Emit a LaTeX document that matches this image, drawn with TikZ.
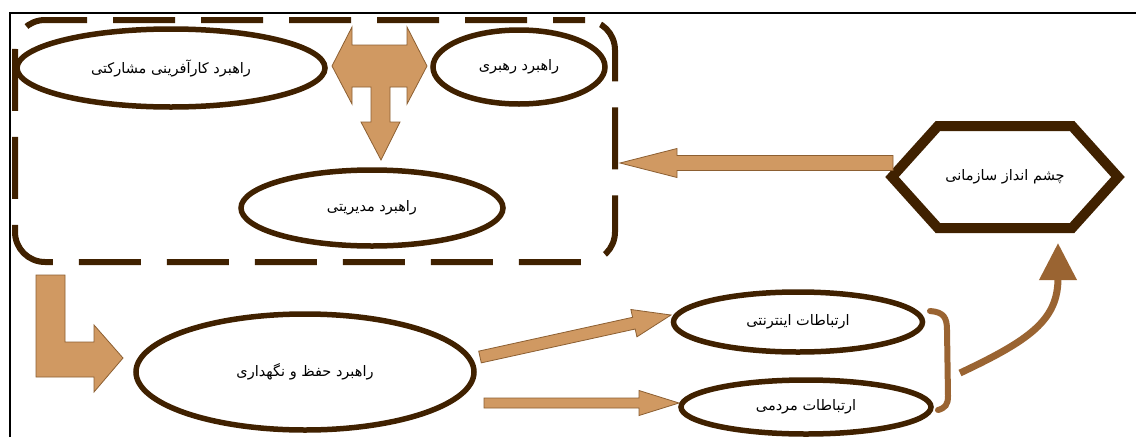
\documentclass[tikz,border=0pt]{standalone}
\usepackage{fontspec}
\usetikzlibrary{shapes.geometric,shapes.symbols,calc,arrows.meta}
\TeXXeTstate=1
\newfontfamily\fa[Script=Arabic]{DejaVu Sans}
\definecolor{dkb}{RGB}{64,33,0}
\definecolor{tanf}{RGB}{208,153,98}
\definecolor{tano}{RGB}{140,95,50}
\definecolor{midb}{RGB}{154,100,50}
\newcommand\blockarr[5]{%
  \coordinate (ba-h) at ($(#2)!#5!(#1)$);
  \filldraw[blk] ($(#1)!#3!90:(#2)$) -- ($(ba-h)!#3!90:(#2)$) -- ($(ba-h)!#4!90:(#2)$) -- (#2)
    -- ($(ba-h)!#4!-90:(#2)$) -- ($(ba-h)!#3!-90:(#2)$) -- ($(#1)!#3!-90:(#2)$) -- cycle;}
\begin{document}
\begin{tikzpicture}[x=1pt,y=-1pt,
  txt/.style={font=\fa\fontsize{14.5}{17}\selectfont, text=black},
  ell/.style={ellipse, draw=dkb, line width=5.5pt, inner sep=0pt, txt},
  blk/.style={fill=tanf, draw=tano, line width=0.8pt, line join=miter},
  frame/.style={draw=black, line width=1.5pt},
  bracketline/.style={draw=midb, line width=6pt, line cap=round},
  curvearr/.style={draw=midb, line width=7pt, -{Triangle[length=37pt,width=36pt]}}]
\useasboundingbox (0,0) rectangle (1136,437);
\fill[white] (0,0) rectangle (1136,437);
% page frame
\draw[frame] (10,437) -- (10,13) -- (1136,13);
% dashed group box
\node[draw=dkb, line width=6pt, rounded corners=30pt, dash pattern=on 62pt off 26pt, dash phase=30pt,
      minimum width=600pt, minimum height=242pt, inner sep=0pt] (box) at (315,141) {};
% ellipses
\node[ell, minimum width=308pt, minimum height=78pt] (part) at (171,68) {\beginR راهبرد کارآفرینی مشارکتی\endR};
\node[ell, minimum width=172pt, minimum height=74pt] (lead) at (519,67) {\beginR راهبرد رهبری\endR};
\node[ell, minimum width=262pt, minimum height=76pt] (mgmt) at (372,208) {\beginR راهبرد مدیریتی\endR};
\node[ell, minimum width=338pt, minimum height=116pt] (keep) at (305,372) {\beginR راهبرد حفظ و نگهداری\endR};
\node[ell, minimum width=249pt, minimum height=60pt] (inet) at (798,322) {\beginR ارتباطات اینترنتی\endR};
\node[ell, minimum width=250pt, minimum height=54pt] (people) at (806,407) {\beginR ارتباطات مردمی\endR};
% hexagon
\node[signal, signal to=west and east, signal pointer angle=96, draw=dkb, line width=10pt,
      line join=miter, minimum width=226pt, minimum height=102pt, inner sep=0pt, txt] (hex) at (1005,177) {\beginR چشم انداز سازمانی\endR};
% T-shaped double arrow between top ellipses, pointing down to mgmt
\filldraw[blk] (332,66) -- (352,27) -- (352,45) -- (407,45) -- (407,27) -- (427,66) -- (407,104)
  -- (407,87) -- (390,87) -- (390,122) -- (400,122) -- (381,160) -- (361,122) -- (371,122)
  -- (371,87) -- (352,87) -- (352,104) -- cycle;
% bent arrow from box to keep
\filldraw[blk] (36,275) -- (65,275) -- (65,342) -- (94,342) -- (94,325) -- (123,358) -- (94,392)
  -- (94,377) -- (36,377) -- cycle;
% straight block arrows
\coordinate (a1s) at (893,163);
\coordinate (a1e) at (620,163);
\blockarr{a1s}{a1e}{7.5pt}{14.5pt}{57pt}
\coordinate (a2s) at (480,357);
\coordinate (a2e) at (671,315);
\blockarr{a2s}{a2e}{6pt}{14pt}{38pt}
\coordinate (a3s) at (484,403);
\coordinate (a3e) at (679,403);
\blockarr{a3s}{a3e}{5pt}{12.5pt}{40pt}
% bracket and curved arrow to hexagon
\draw[bracketline] (930,311) .. controls (944,312) and (947,318) .. (947,330) -- (948,396)
  .. controls (948,405) and (945,408) .. (938,410);
\coordinate (c1) at (960,373);
\coordinate (c2) at (1058,243);
\draw[curvearr] (c1) .. controls (1030,340) and (1058,320) .. (c2);
\end{tikzpicture}
\end{document}
